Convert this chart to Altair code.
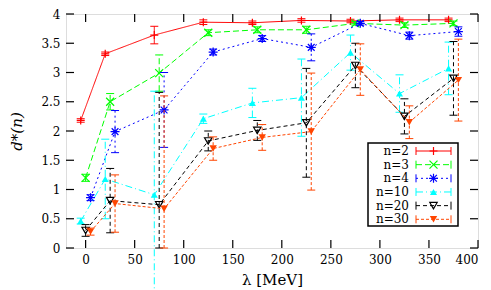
import altair as alt
import pandas as pd

# ---------------- data ----------------
names = ["n=2", "n=3", "n=4", "n=10", "n=20", "n=30"]

x_a = [-5, 20, 70, 120, 170, 220, 270, 320, 370]
x_b = [0, 25, 75, 125, 175, 225, 275, 325, 375]
x_c = [5, 30, 80, 130, 180, 230, 280, 330, 380]

y_n2 = [2.18, 3.32, 3.64, 3.86, 3.85, 3.89, 3.88, 3.90, 3.90]
e_n2 = [0.03, 0.03, 0.15, 0.04, 0.03, 0.03, 0.03, 0.03, 0.03]

y_n3 = [1.20, 2.50, 2.99, 3.68, 3.73, 3.73, 3.84, 3.81, 3.84]
e_n3 = [0.06, 0.14, 0.31, 0.05, 0.05, 0.06, 0.03, 0.04, 0.04]

y_n4 = [0.86, 1.99, 2.36, 3.35, 3.58, 3.43, 3.84, 3.63, 3.70]
e_n4 = [0.05, 0.36, 0.64, 0.05, 0.05, 0.23, 0.03, 0.06, 0.08]

y_n10 = [0.46, 1.18, 0.91, 2.21, 2.48, 2.57, 3.34, 2.64, 3.07]
e_n10 = [0.05, 0.68, 1.77, 0.08, 0.25, 0.66, 0.30, 0.32, 0.45]

y_n20 = [0.30, 0.81, 0.74, 1.83, 2.01, 2.14, 3.12, 2.25, 2.90]
e_n20_up = [0.10, 0.55, 1.92, 0.17, 0.17, 0.93, 0.38, 0.30, 0.63]
e_n20_dn = [0.10, 0.55, 0.74, 0.17, 0.17, 0.93, 0.38, 0.30, 0.63]

y_n30 = [0.28, 0.76, 0.67, 1.70, 1.89, 1.99, 3.05, 2.15, 2.87]
e_n30_up = [0.06, 0.49, 1.93, 0.20, 0.22, 1.00, 0.44, 0.28, 0.70]
e_n30_dn = [0.06, 0.49, 0.67, 0.20, 0.22, 1.00, 0.44, 0.28, 0.70]

x_ticks = [0, 50, 100, 150, 200, 250, 300, 350, 400]
y_ticks = [0, 0.5, 1, 1.5, 2, 2.5, 3, 3.5, 4]

series = [
    ("n=2", x_a, y_n2, e_n2, e_n2),
    ("n=3", x_b, y_n3, e_n3, e_n3),
    ("n=4", x_c, y_n4, e_n4, e_n4),
    ("n=10", x_a, y_n10, e_n10, e_n10),
    ("n=20", x_b, y_n20, e_n20_dn, e_n20_up),
    ("n=30", x_c, y_n30, e_n30_dn, e_n30_up),
]

# ---------------- styles ----------------
colors = ["#ff0000", "#00ff00", "#0000ff", "#00ffff", "#000000", "#ff4500"]
dashes = [[1, 0], [6, 3], [2, 3], [7, 3, 1, 3], [4, 3], [3, 2]]
PLUS = "M-1,0L1,0M0,-1L0,1"
CROSS = "M-1,-1L1,1M-1,1L1,-1"
STAR = "M-1,0L1,0M0,-1L0,1M-0.75,-0.75L0.75,0.75M-0.75,0.75L0.75,-0.75"
CAP = "M-1,0L1,0"
VCAP = "M0,-1L0,1"
shapes = [PLUS, CROSS, STAR, "triangle-up", "triangle-down", "triangle-down"]
filled = [False, False, False, True, False, True]
msize = [64, 64, 81, 50, 55, 55]

W, H = 412, 234
FONT = "DejaVu Serif"

xs = alt.Scale(domain=[-20, 400], nice=False, zero=False)
ys = alt.Scale(domain=[0, 4], nice=False, zero=False)
leg_scale = alt.Scale(domain=[0, 5], range=[137, 205.3])

x_axis = alt.Axis(values=x_ticks, ticks=False, domain=False, grid=False,
                  labelFont=FONT, labelFontSize=12, labelColor="black",
                  labelPadding=6, labelExpr="datum.value + ''",
                  title="λ [MeV]", titleFont=FONT, titleFontSize=15,
                  titleFontWeight="normal", titleColor="black", titlePadding=7)
y_axis = alt.Axis(values=y_ticks, ticks=False, domain=False, grid=False,
                  labelFont=FONT, labelFontSize=12, labelColor="black",
                  labelPadding=6, labelExpr="datum.value + ''",
                  title="d*(n)", titleFont=FONT, titleFontSize=15,
                  titleFontStyle="italic", titleFontWeight="normal",
                  titleColor="black", titlePadding=16)


def X(field):
    return alt.X(field, type="quantitative", scale=xs, axis=x_axis)


def Y(field, axis=None):
    return alt.Y(field, type="quantitative", scale=ys, axis=axis)


layers = []

carrier = alt.Chart(pd.DataFrame({"x": x_ticks, "y": y_ticks})).mark_point(
    opacity=0).encode(x=X("x"), y=Y("y", y_axis))
layers.append(carrier)

for i, (name, xv, yv, edn, eup) in enumerate(series):
    df = pd.DataFrame({
        "x": xv, "y": yv,
        "lo": [a - b for a, b in zip(yv, edn)],
        "hi": [a + b for a, b in zip(yv, eup)],
    })
    base = alt.Chart(df)
    c, d = colors[i], dashes[i]
    layers.append(base.mark_line(color=c, strokeDash=d, strokeWidth=1).encode(
        x=X("x"), y=Y("y")))
    layers.append(base.mark_rule(color=c, strokeDash=d, strokeWidth=1).encode(
        x=X("x"), y=Y("lo"), y2="hi:Q"))
    layers.append(base.mark_point(shape=CAP, size=64, filled=False, color=c,
                                  strokeWidth=1, opacity=1).encode(x=X("x"), y=Y("lo")))
    layers.append(base.mark_point(shape=CAP, size=64, filled=False, color=c,
                                  strokeWidth=1, opacity=1).encode(x=X("x"), y=Y("hi")))
    layers.append(base.mark_point(shape=shapes[i], size=msize[i], filled=filled[i],
                                  color=c, strokeWidth=1.2, opacity=1).encode(
        x=X("x"), y=Y("y")))

# inward ticks (gnuplot style)
xt = alt.Chart(pd.DataFrame({"t": x_ticks}))
layers.append(xt.mark_rule(color="black", strokeWidth=1.2).encode(
    x=X("t"), y=alt.value(H), y2=alt.value(H - 8)))
layers.append(xt.mark_rule(color="black", strokeWidth=1.2).encode(
    x=X("t"), y=alt.value(0), y2=alt.value(8)))
yt = alt.Chart(pd.DataFrame({"t": y_ticks}))
layers.append(yt.mark_rule(color="black", strokeWidth=1.2).encode(
    y=Y("t"), x=alt.value(0), x2=alt.value(8)))
layers.append(yt.mark_rule(color="black", strokeWidth=1.2).encode(
    y=Y("t"), x=alt.value(W), x2=alt.value(W - 8)))

# legend box
box = alt.Chart(pd.DataFrame({"a": [0]})).mark_rect(
    fill="white", stroke="black", strokeWidth=1.5).encode(
    x=alt.value(302), x2=alt.value(392), y=alt.value(129), y2=alt.value(212))
layers.append(box)

for i, name in enumerate(names):
    ldf = pd.DataFrame({"row": [i], "label": [name]})
    lb = alt.Chart(ldf)
    c, d = colors[i], dashes[i]
    LY = alt.Y("row:Q", scale=leg_scale, axis=None)
    layers.append(lb.mark_text(align="right", baseline="middle", font=FONT,
                               fontSize=12, color="black").encode(
        x=alt.value(343), y=LY, text="label:N"))
    layers.append(lb.mark_rule(color=c, strokeDash=d, strokeWidth=1).encode(
        x=alt.value(350), x2=alt.value(385), y=LY))
    layers.append(lb.mark_point(shape=VCAP, size=64, filled=False, color=c,
                                strokeWidth=1, opacity=1).encode(x=alt.value(350), y=LY))
    layers.append(lb.mark_point(shape=VCAP, size=64, filled=False, color=c,
                                strokeWidth=1, opacity=1).encode(x=alt.value(385), y=LY))
    layers.append(lb.mark_point(shape=shapes[i], size=msize[i], filled=filled[i],
                                color=c, strokeWidth=1.2, opacity=1).encode(
        x=alt.value(367.5), y=LY))

chart = alt.layer(*layers).resolve_scale(y="independent").properties(
    width=W, height=H,
    autosize=alt.AutoSizeParams(type="none"),
    padding={"left": 58, "top": 6, "right": 5, "bottom": 42},
).configure_view(stroke="black", strokeWidth=1.5).configure(
    background="white", font=FONT)

chart.save("out.html", embed_options={"renderer": "svg", "actions": False})
